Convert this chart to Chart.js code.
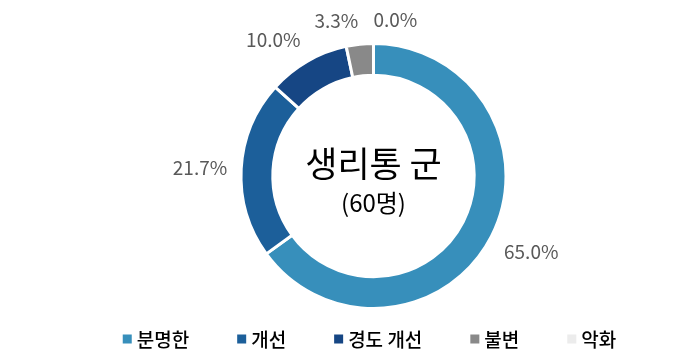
<!DOCTYPE html>
<html>
<head>
<meta charset="utf-8">
<script src="https://cdn.jsdelivr.net/npm/chart.js@4/dist/chart.umd.min.js"></script>
<style>
html,body{margin:0;padding:0;background:#fff;}
#wrap{width:691px;height:356px;position:relative;}
</style>
</head>
<body>
<div id="wrap"><canvas id="c" width="691" height="356"></canvas></div>
<script>
const categories = ['분명한', '개선', '경도 개선', '불변', '악화'];
const values = [65.0, 21.7, 10.0, 3.3, 0.0];
const valueLabels = ['65.0%', '21.7%', '10.0%', '3.3%', '0.0%'];
const colors = ['#378fbb', '#1c5f9a', '#164684', '#898989', '#ececec'];
const centerTitle = '생리통 군';
const centerSub = '(60명)';

const FONT = "'Noto Sans CJK KR', 'Noto Sans', sans-serif";

const centerText = {
  id: 'centerText',
  afterDraw(chart) {
    const a = chart.getDatasetMeta(0).data[0];
    const ctx = chart.ctx;
    ctx.save();
    ctx.fillStyle = '#000';
    ctx.textAlign = 'center';
    ctx.textBaseline = 'middle';
    ctx.font = '35px ' + FONT;
    ctx.fillText(centerTitle, a.x, a.y - 12);
    ctx.font = '24px ' + FONT;
    ctx.fillText(centerSub, a.x, a.y + 27);
    ctx.restore();
  }
};

const outLabels = {
  id: 'outLabels',
  afterDatasetsDraw(chart) {
    const meta = chart.getDatasetMeta(0);
    const ctx = chart.ctx;
    ctx.save();
    ctx.font = '19px ' + FONT;
    ctx.fillStyle = '#595959';
    meta.data.forEach((arc, i) => {
      const mid = (arc.startAngle + arc.endAngle) / 2;
      const r = arc.outerRadius + 14;
      const c = Math.cos(mid), s = Math.sin(mid);
      const cx = arc.x + c * r;
      const cy = arc.y + s * r;
      ctx.textAlign = c < -0.05 ? 'right' : 'left';
      ctx.textBaseline = s > 0.3 ? 'top' : (s < -0.3 ? 'bottom' : 'middle');
      ctx.fillText(valueLabels[i], cx, cy);
    });
    ctx.restore();
  }
};

const customLegend = {
  id: 'customLegend',
  afterDraw(chart) {
    const ctx = chart.ctx;
    const ds = chart.data.datasets[0];
    const box = 9, boxGap = 5, itemGap = 48;
    ctx.save();
    ctx.font = '500 19px ' + FONT;
    const widths = chart.data.labels.map(t => box + boxGap + ctx.measureText(t).width);
    const total = widths.reduce((a, b) => a + b, 0) + itemGap * (widths.length - 1);
    const cxm = (chart.chartArea.left + chart.chartArea.right) / 2 - 4;
    let x = cxm - total / 2;
    const y = chart.height - 16;
    ctx.textBaseline = 'middle';
    ctx.textAlign = 'left';
    chart.data.labels.forEach((t, i) => {
      ctx.fillStyle = ds.backgroundColor[i];
      ctx.fillRect(x, y - box / 2 - 1, box, box);
      ctx.fillStyle = '#000';
      ctx.fillText(t, x + box + boxGap, y);
      x += widths[i] + itemGap;
    });
    ctx.restore();
  }
};

new Chart(document.getElementById('c'), {
  type: 'doughnut',
  data: {
    labels: categories,
    datasets: [{
      data: values,
      backgroundColor: colors,
      borderColor: '#ffffff',
      borderWidth: 3,
      hoverOffset: 0
    }]
  },
  options: {
    responsive: false,
    animation: false,
    cutout: '76%',
    layout: { padding: { top: 42, bottom: 46, left: 56, right: 0 } },
    plugins: {
      tooltip: { enabled: false },
      legend: { display: false }
    }
  },
  plugins: [centerText, outLabels, customLegend]
});
</script>
</body>
</html>
